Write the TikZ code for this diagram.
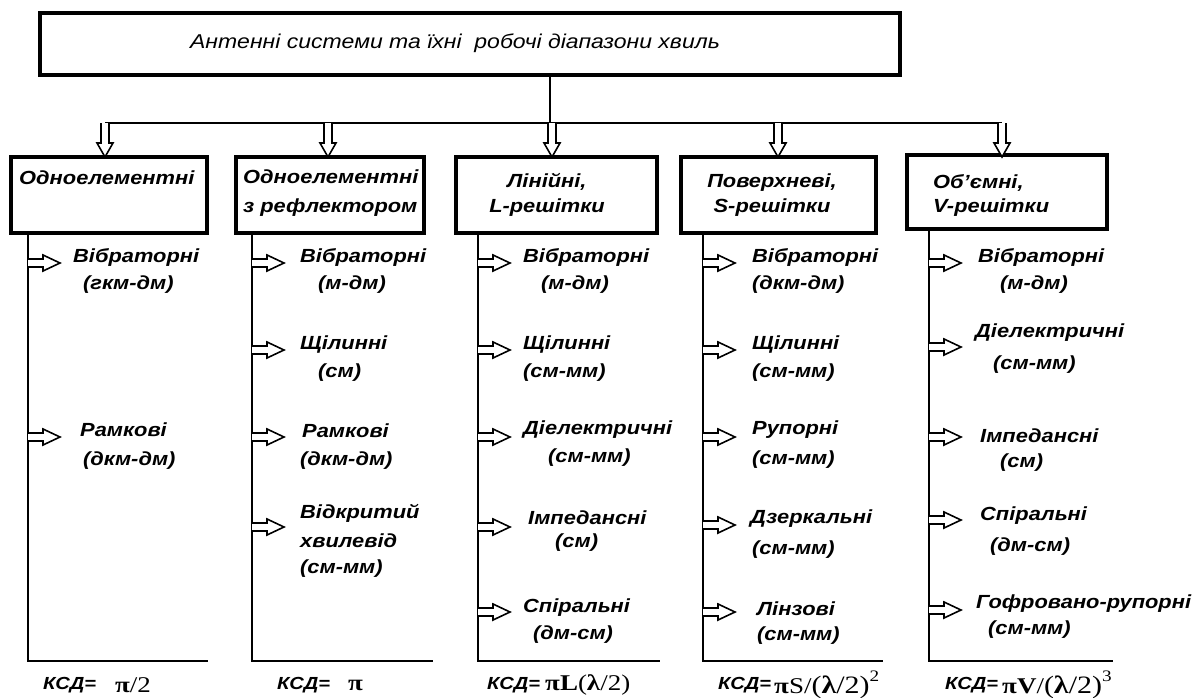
\documentclass[tikz,border=0pt]{standalone}
\usepackage{fontspec}
\setmainfont[FakeStretch=1.15]{Liberation Sans}
\newfontfamily\tnr[FakeStretch=1.2]{Liberation Serif}
\begin{document}
\begin{tikzpicture}[x=1pt,y=-1pt,
  box/.style={draw,line width=3.5pt,inner sep=0pt},
  conn/.style={line width=2.6pt},
  lbl/.style={font=\fontsize{19}{22}\selectfont\bfseries\itshape, anchor=west, inner sep=0pt},
  hdr/.style={font=\fontsize{19}{29}\selectfont\bfseries\itshape, inner sep=0pt},
  ttl/.style={font=\fontsize{20}{24}\selectfont\itshape, inner sep=0pt},
  ksd/.style={font=\fontsize{17.5}{22}\selectfont\bfseries\itshape, anchor=west, inner sep=0pt},
  fml/.style={font=\fontsize{22.5}{24}\selectfont\tnr, anchor=west, inner sep=0pt},
  rarr/.pic={\draw[line width=1.6pt,fill=white] (0,-4)--(15,-4)--(15,-8)--(32,0)--(15,8)--(15,4)--(0,4);},
  darr/.pic={\draw[line width=1.6pt,fill=white] (-4,0)--(-4,20)--(-8,20)--(0,34)--(8,20)--(4,20)--(4,0);}
]
\useasboundingbox (0,0) rectangle (1197,697);

% top box
\node[box,minimum width=860,minimum height=62] (top) at (470,44) {};
\node[ttl] (title) at (455,43) {Антенні системи та їхні \ робочі діапазони хвиль};

% distribution line
\coordinate (hj) at (550,123);
\coordinate (h1) at (105,123);
\coordinate (h2) at (328,123);
\coordinate (h3) at (552,123);
\coordinate (h4) at (778,123);
\coordinate (h5) at (1002,123);
\draw[conn] (top.south -| hj) -- (hj);
\draw[conn] (h1) -- (h5);

% boxes
\node[box,minimum width=196,minimum height=76] (b1) at (109,195) {};
\node[box,minimum width=188,minimum height=76] (b2) at (330,195) {};
\node[box,minimum width=201,minimum height=76] (b3) at (556.5,195) {};
\node[box,minimum width=195,minimum height=76] (b4) at (778.5,195) {};
\node[box,minimum width=200,minimum height=74] (b5) at (1007,192) {};

\pic at (h1) {darr};
\pic at (h2) {darr};
\pic at (h3) {darr};
\pic at (h4) {darr};
\pic at (h5) {darr};

% headings
\node[hdr,anchor=west] (t1) at (19,178) {Одноелементні};
\node[hdr,anchor=west,align=left] (t2) at (243,193) {Одноелементні\\з рефлектором};
\node[hdr,align=center,font=\fontsize{19}{25}\selectfont\bfseries\itshape] (t3) at (547,195) {Лінійні,\\L-решітки};
\node[hdr,align=center,font=\fontsize{19}{25}\selectfont\bfseries\itshape] (t4) at (772,195) {Поверхневі,\\S-решітки};
\node[hdr,anchor=west,align=left,font=\fontsize{19}{24}\selectfont\bfseries\itshape] (t5) at (933,195) {Об{\char"0027}ємні,\\V-решітки};

% column trunks
\coordinate (v1) at (28,661);  \coordinate (e1) at (208,661);
\coordinate (v2) at (252,661); \coordinate (e2) at (433,661);
\coordinate (v3) at (478,661); \coordinate (e3) at (660,661);
\coordinate (v4) at (703,661); \coordinate (e4) at (883,661);
\coordinate (v5) at (929,661); \coordinate (e5) at (1113,661);
\draw[conn] (b1.south -| v1) -- (v1) -- (e1);
\draw[conn] (b2.south -| v2) -- (v2) -- (e2);
\draw[conn] (b3.south -| v3) -- (v3) -- (e3);
\draw[conn] (b4.south -| v4) -- (v4) -- (e4);
\draw[conn] (b5.south -| v5) -- (v5) -- (e5);

% column 1
\pic at (28,263) {rarr};
\pic at (28,437) {rarr};
\node[lbl] (a11) at (73,257) {Вібраторні};
\node[lbl] (a11r) at (83,285) {(гкм-дм)};
\node[lbl] (a12) at (80,430) {Рамкові};
\node[lbl] (a12r) at (83,461) {(дкм-дм)};

% column 2
\pic at (252,263) {rarr};
\pic at (252,350) {rarr};
\pic at (252,437) {rarr};
\pic at (252,527) {rarr};
\node[lbl] (a21) at (300,257) {Вібраторні};
\node[lbl] (a21r) at (318,285) {(м-дм)};
\node[lbl] (a22) at (300,345) {Щілинні};
\node[lbl] (a22r) at (318,373) {(см)};
\node[lbl] (a23) at (302,431) {Рамкові};
\node[lbl] (a23r) at (300,461) {(дкм-дм)};
\node[lbl] (a24) at (300,513) {Відкритий};
\node[lbl] (a24b) at (300,541) {хвилевід};
\node[lbl] (a24r) at (300,569) {(см-мм)};

% column 3
\pic at (478,263) {rarr};
\pic at (478,350) {rarr};
\pic at (478,437) {rarr};
\pic at (478,527) {rarr};
\pic at (478,612) {rarr};
\node[lbl] (a31) at (523,257) {Вібраторні};
\node[lbl] (a31r) at (541,285) {(м-дм)};
\node[lbl] (a32) at (523,345) {Щілинні};
\node[lbl] (a32r) at (523,373) {(см-мм)};
\node[lbl] (a33) at (523,430) {Діелектричні};
\node[lbl] (a33r) at (548,458) {(см-мм)};
\node[lbl] (a34) at (528,518) {Імпедансні};
\node[lbl] (a34r) at (555,543) {(см)};
\node[lbl] (a35) at (523,608) {Спіральні};
\node[lbl] (a35r) at (533,635) {(дм-см)};

% column 4
\pic at (703,263) {rarr};
\pic at (703,350) {rarr};
\pic at (703,437) {rarr};
\pic at (703,525) {rarr};
\pic at (703,612) {rarr};
\node[lbl] (a41) at (752,257) {Вібраторні};
\node[lbl] (a41r) at (752,285) {(дкм-дм)};
\node[lbl] (a42) at (752,345) {Щілинні};
\node[lbl] (a42r) at (752,373) {(см-мм)};
\node[lbl] (a43) at (752,430) {Рупорні};
\node[lbl] (a43r) at (752,460) {(см-мм)};
\node[lbl] (a44) at (750,519) {Дзеркальні};
\node[lbl] (a44r) at (752,550) {(см-мм)};
\node[lbl] (a45) at (757,609) {Лінзові};
\node[lbl] (a45r) at (757,636) {(см-мм)};

% column 5
\pic at (929,263) {rarr};
\pic at (929,347) {rarr};
\pic at (929,437) {rarr};
\pic at (929,520) {rarr};
\pic at (929,610) {rarr};
\node[lbl] (a51) at (978,257) {Вібраторні};
\node[lbl] (a51r) at (1000,285) {(м-дм)};
\node[lbl] (a52) at (975,333) {Діелектричні};
\node[lbl] (a52r) at (993,365) {(см-мм)};
\node[lbl] (a53) at (980,436) {Імпедансні};
\node[lbl] (a53r) at (1000,463) {(см)};
\node[lbl] (a54) at (980,516) {Спіральні};
\node[lbl] (a54r) at (990,547) {(дм-см)};
\node[lbl] (a55) at (976,604) {Гофровано-рупорні};
\node[lbl] (a55r) at (988,630) {(см-мм)};

% efficiency formulas
\node[ksd] (k1) at (43,685) {КСД=};
\node[fml] (f1) at (115,685) {\textbf{π}/2};
\node[ksd] (k2) at (277,685) {КСД=};
\node[fml] (f2) at (348,685) {\textbf{π}};
\node[ksd] (k3) at (487,685) {КСД=};
\node[fml] (f3) at (545,685) {\textbf{πL}(\textbf{λ}/2)};
\node[ksd] (k4) at (718,685) {КСД=};
\node[fml] (f4) at (774,685) {\textbf{π}S/\fontsize{25}{25}\selectfont(\textbf{λ}/2)\raisebox{1.0ex}{\fontsize{16}{16}\selectfont 2}};
\node[ksd] (k5) at (945,685) {КСД=};
\node[fml] (f5) at (1002,685) {\textbf{πV}/\fontsize{25}{25}\selectfont(\textbf{λ}/2)\raisebox{1.0ex}{\fontsize{16}{16}\selectfont 3}};
\end{tikzpicture}
\end{document}
